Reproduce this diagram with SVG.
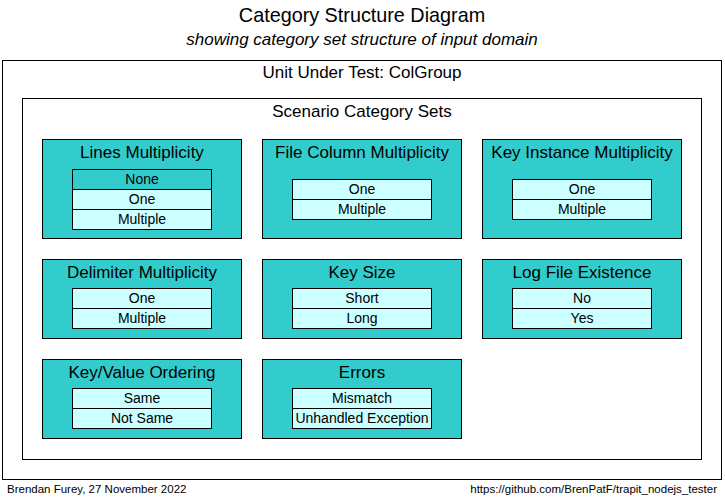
<svg xmlns="http://www.w3.org/2000/svg" width="725" height="498" viewBox="0 0 725 498">
<style>
text{font-family:"Liberation Sans",Arial,sans-serif;fill:#000;text-anchor:middle}
.t{font-size:19.8px}
.s{font-size:17px;font-style:italic}
.h{font-size:17px}
.i{font-size:14px}
.f{font-size:11.5px}
.frame{fill:#fff;stroke:#000;stroke-width:1}
.cat{fill:#33cccc;stroke:#000;stroke-width:1}
.it{fill:#ccffff;stroke:#000;stroke-width:1}
.itd{fill:#33cccc;stroke:#000;stroke-width:1}
</style>
<rect width="725" height="498" fill="#fff"/>
<text class="t" x="362" y="22">Category Structure Diagram</text>
<text class="s" x="362" y="45">showing category set structure of input domain</text>
<g id="uut">
<rect class="frame" x="2.5" y="60.5" width="719" height="419"/>
<text class="h" x="362" y="78">Unit Under Test: ColGroup</text>
</g>
<g id="scenario">
<rect class="frame" x="22.5" y="98.5" width="679" height="361"/>
<text class="h" x="362" y="117">Scenario Category Sets</text>
</g>
<g id="lines">
<rect class="cat" x="42.5" y="139.5" width="199" height="99"/>
<text class="h" x="142" y="158">Lines Multiplicity</text>
<rect class="itd" x="72.5" y="169.5" width="139" height="20"/><text class="i" x="142" y="184">None</text>
<rect class="it" x="72.5" y="189.5" width="139" height="20"/><text class="i" x="142" y="204">One</text>
<rect class="it" x="72.5" y="209.5" width="139" height="20"/><text class="i" x="142" y="224">Multiple</text>
</g>
<g id="filecol">
<rect class="cat" x="262.5" y="139.5" width="199" height="99"/>
<text class="h" x="362" y="158">File Column Multiplicity</text>
<rect class="it" x="292.5" y="179.5" width="139" height="20"/><text class="i" x="362" y="194">One</text>
<rect class="it" x="292.5" y="199.5" width="139" height="20"/><text class="i" x="362" y="214">Multiple</text>
</g>
<g id="keyinst">
<rect class="cat" x="482.5" y="139.5" width="199" height="99"/>
<text class="h" x="582" y="158">Key Instance Multiplicity</text>
<rect class="it" x="512.5" y="179.5" width="139" height="20"/><text class="i" x="582" y="194">One</text>
<rect class="it" x="512.5" y="199.5" width="139" height="20"/><text class="i" x="582" y="214">Multiple</text>
</g>
<g id="delim">
<rect class="cat" x="42.5" y="259.5" width="199" height="79"/>
<text class="h" x="142" y="278">Delimiter Multiplicity</text>
<rect class="it" x="72.5" y="288.5" width="139" height="20"/><text class="i" x="142" y="303">One</text>
<rect class="it" x="72.5" y="308.5" width="139" height="20"/><text class="i" x="142" y="323">Multiple</text>
</g>
<g id="keysize">
<rect class="cat" x="262.5" y="259.5" width="199" height="79"/>
<text class="h" x="362" y="278">Key Size</text>
<rect class="it" x="292.5" y="288.5" width="139" height="20"/><text class="i" x="362" y="303">Short</text>
<rect class="it" x="292.5" y="308.5" width="139" height="20"/><text class="i" x="362" y="323">Long</text>
</g>
<g id="logfile">
<rect class="cat" x="482.5" y="259.5" width="199" height="79"/>
<text class="h" x="582" y="278">Log File Existence</text>
<rect class="it" x="512.5" y="288.5" width="139" height="20"/><text class="i" x="582" y="303">No</text>
<rect class="it" x="512.5" y="308.5" width="139" height="20"/><text class="i" x="582" y="323">Yes</text>
</g>
<g id="kvorder">
<rect class="cat" x="42.5" y="359.5" width="199" height="79"/>
<text class="h" x="142" y="378">Key/Value Ordering</text>
<rect class="it" x="72.5" y="388.5" width="139" height="20"/><text class="i" x="142" y="403">Same</text>
<rect class="it" x="72.5" y="408.5" width="139" height="20"/><text class="i" x="142" y="423">Not Same</text>
</g>
<g id="errors">
<rect class="cat" x="262.5" y="359.5" width="199" height="79"/>
<text class="h" x="362" y="378">Errors</text>
<rect class="it" x="292.5" y="388.5" width="139" height="20"/><text class="i" x="362" y="403">Mismatch</text>
<rect class="it" x="292.5" y="408.5" width="139" height="20"/><text class="i" x="362" y="423">Unhandled Exception</text>
</g>
<g id="connectors"></g>
<text class="f" x="7" y="493" style="text-anchor:start">Brendan Furey, 27 November 2022</text>
<text class="f" x="717" y="493" style="text-anchor:end">https://github.com/BrenPatF/trapit_nodejs_tester</text>
</svg>
